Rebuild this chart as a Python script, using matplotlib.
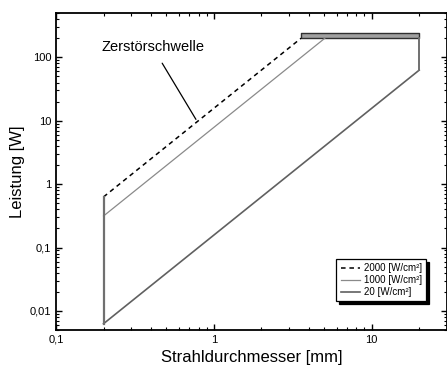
import numpy as np
import matplotlib
matplotlib.use('Agg')
import matplotlib.pyplot as plt
import matplotlib.ticker as ticker

plt.rcParams['font.family'] = ['Liberation Sans', 'DejaVu Sans']

# Strahldurchmesser [mm] und Leistung [W] je Intensitaet
d_2000 = [0.2, 3.57]
p_2000 = [0.628, 200]
d_1000 = [0.2, 5.05]
p_1000 = [0.314, 200]
d_20 = [0.2, 20]
p_20 = [0.00628, 62.8]

# senkrechte Begrenzungen
d_left = 0.2
p_left = [0.00628, 0.628]
d_right = 20
p_right = [62.8, 200]

# Leistungsgrenze oben (Band)
band_d = [3.57, 20]
band_low = 200
band_high = 245

xticks = [0.1, 1, 10]
xticklabels = ['0,1', '1', '10']
yticks = [0.01, 0.1, 1, 10, 100]
yticklabels = ['0,01', '0,1', '1', '10', '100']

fig = plt.figure(figsize=(4.47, 3.71), dpi=100)
ax = fig.add_axes([56 / 447, 1 - 330 / 371, 1 - 56 / 447, 317 / 371])
ax.set_xscale('log')
ax.set_yscale('log')

ax.fill_between(band_d, band_low, band_high, color='#a0a0a0', edgecolor='#303030', linewidth=1)
ax.plot(d_2000, p_2000, color='black', linestyle=(0, (3, 2.5)), linewidth=1.1, label='2000 [W/cm²]')
ax.plot(d_1000, p_1000, color='#8a8a8a', linewidth=0.9, label='1000 [W/cm²]')
ax.plot(d_20, p_20, color='#606060', linewidth=1.2, label='20 [W/cm²]')
ax.plot([d_left, d_left], p_left, color='#707070', linewidth=1.6)
ax.plot([d_right, d_right], p_right, color='#707070', linewidth=1.4)

ax.annotate('Zerstörschwelle', xy=(0.77, 10.5), xytext=(0.41, 143),
            ha='center', va='center', fontsize=10.5,
            arrowprops=dict(arrowstyle='-', color='black', lw=0.9, shrinkA=5, shrinkB=0))

ax.set_xlim(0.1, 30)
ax.set_ylim(0.005, 500)
ax.xaxis.set_major_locator(ticker.FixedLocator(xticks))
ax.xaxis.set_major_formatter(ticker.FixedFormatter(xticklabels))
ax.yaxis.set_major_locator(ticker.FixedLocator(yticks))
ax.yaxis.set_major_formatter(ticker.FixedFormatter(yticklabels))
ax.xaxis.set_minor_locator(ticker.LogLocator(base=10, subs=np.arange(2, 10)))
ax.yaxis.set_minor_locator(ticker.LogLocator(base=10, subs=np.arange(2, 10)))
ax.xaxis.set_minor_formatter(ticker.NullFormatter())
ax.yaxis.set_minor_formatter(ticker.NullFormatter())
ax.tick_params(which='both', direction='in', top=True, right=True, labelsize=8)
ax.tick_params(which='major', length=4, width=1)
ax.tick_params(which='minor', length=2.5, width=0.8)
for s in ax.spines.values():
    s.set_linewidth(1.3)

ax.set_xlabel('Strahldurchmesser [mm]', fontsize=12, labelpad=4)
ax.set_ylabel('Leistung [W]', fontsize=12, labelpad=3)

leg = ax.legend(loc='lower right', bbox_to_anchor=(0.96, 0.075), fontsize=7,
                frameon=True, fancybox=False, edgecolor='black', handlelength=2.0,
                labelspacing=0.2, borderpad=0.45, handletextpad=0.4,
                shadow={'color': 'black', 'alpha': 1})
leg.get_frame().set_linewidth(0.9)

fig.savefig('out.png', dpi=100)
